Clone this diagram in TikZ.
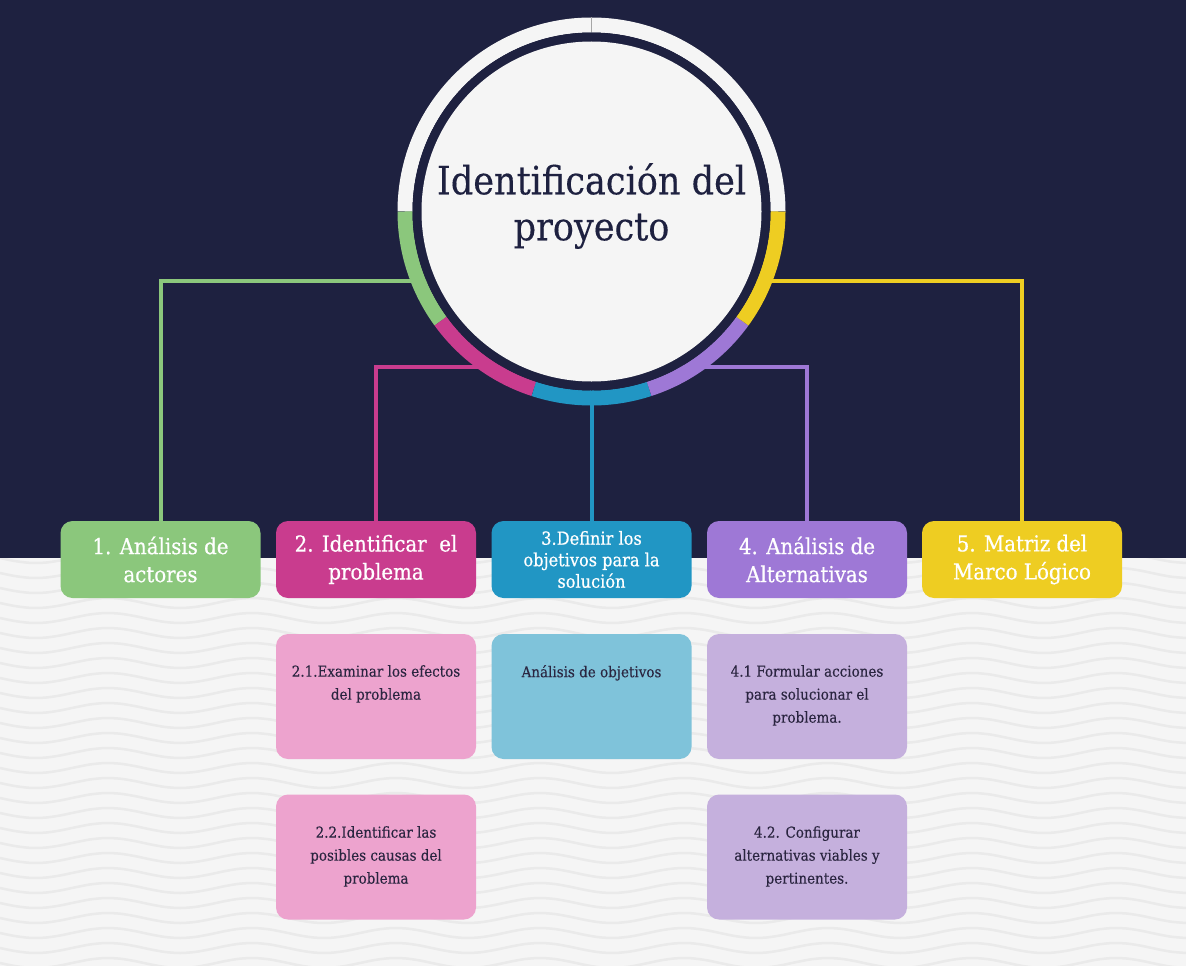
\documentclass[tikz,border=0pt]{standalone}
\usepackage{fontspec}
\setmainfont{DejaVu Serif Condensed}
\newfontfamily\slabmid[FakeBold=0.6]{DejaVu Serif Condensed}
\newfontfamily\slabtit[FakeBold=0.3]{DejaVu Serif Condensed}
\newfontfamily\slabsub[FakeBold=0.2]{DejaVu Serif Condensed}
\usetikzlibrary{calc}
\definecolor{navy}{HTML}{1E2140}
\definecolor{paper}{HTML}{F5F5F5}
\definecolor{wave}{HTML}{EAEAEA}
\definecolor{cgreen}{HTML}{8BC77C}
\definecolor{cmag}{HTML}{C93C8E}
\definecolor{cblue}{HTML}{2196C4}
\definecolor{cpurp}{HTML}{9E78D6}
\definecolor{cyell}{HTML}{EECD22}
\definecolor{lpink}{HTML}{EDA3CE}
\definecolor{lblue}{HTML}{7FC3DA}
\definecolor{llav}{HTML}{C5B0DD}
\definecolor{ink}{HTML}{2A2540}
\definecolor{ringw}{HTML}{F5F5F5}
\tikzset{
  mainbox/.style={rounded corners=12pt, minimum width=200pt, minimum height=77pt, inner sep=0pt, text=white, align=center, font=\slabmid\fontsize{22}{28}\selectfont},
  subbox/.style={rounded corners=12pt, minimum width=200pt, minimum height=125pt, inner sep=0pt},
  subtext/.style={anchor=north, align=center, text=ink, inner sep=0pt, font=\slabsub\fontsize{15}{23}\selectfont},
  link/.style={line width=4pt},
  seg/.style={line width=15pt}
}
\begin{document}
\begin{tikzpicture}[x=1pt,y=-1pt]
\useasboundingbox (0,0) rectangle (1186,966);
% backgrounds
\fill[paper] (0,0) rectangle (1186,966);
\foreach \k in {0,...,28}{
  \draw[wave, line width=2.5pt] plot[domain=0:1186, samples=80, smooth] (\x, {558+\k*15 + 5*sin(\x*2.5)});
}
\fill[navy] (0,0) rectangle (1186,558);
% centre
\coordinate (c) at (591.5,211.5);
\coordinate (jg) at (500,281);
\coordinate (jm) at (520,367);
\coordinate (jp) at (660,367);
\coordinate (jy) at (680,281);
% top boxes
\node[mainbox, fill=cgreen] (b1) at (160.5,559.5) {1. Análisis de\\actores};
\node[mainbox, fill=cmag] (b2) at (376,559.5) {2. Identificar\ \ el\\problema};
\node[mainbox, fill=cblue, font=\slabmid\fontsize{18}{21.5}\selectfont] (b3) at (591.5,559.5) {3.Definir los\\objetivos para la\\solución};
\node[mainbox, fill=cpurp] (b4) at (807,559.5) {4. Análisis de\\Alternativas};
\node[mainbox, fill=cyell] (b5) at (1022,559.5) {5. Matriz del\\Marco Lógico};
% connectors
\draw[link, cgreen] (b1.north) |- (jg);
\draw[link, cmag] (b2.north) |- (jm);
\draw[link, cblue] (b3.north) -- (c);
\draw[link, cpurp] (b4.north) |- (jp);
\draw[link, cyell] (b5.north) |- (jy);
% ring
\draw[seg, ringw] ($(c)+(0:186.5)$) arc[start angle=360, end angle=180, radius=186.5];
\draw[seg, cgreen] ($(c)+(180:186.5)$) arc[start angle=180, end angle=144, radius=186.5];
\draw[seg, cmag] ($(c)+(144:186.5)$) arc[start angle=144, end angle=108, radius=186.5];
\draw[seg, cblue] ($(c)+(108:186.5)$) arc[start angle=108, end angle=72, radius=186.5];
\draw[seg, cpurp] ($(c)+(72:186.5)$) arc[start angle=72, end angle=36, radius=186.5];
\draw[seg, cyell] ($(c)+(36:186.5)$) arc[start angle=36, end angle=0, radius=186.5];
\draw[gray!70, line width=0.8pt] ($(c)+(0,-194)$) -- ($(c)+(0,-179)$);
\fill[navy] (c) circle[radius=179];
\node[circle, fill=paper, minimum size=340pt, inner sep=0pt] (disc) at (c) {};
\node[align=center, text=navy, inner sep=0pt, font=\slabtit\fontsize{39}{46}\selectfont] (title) at (591.5,206) {Identificación del\\proyecto};
% sub boxes
\node[subbox, fill=lpink] (b21) at (376,696.5) {};
\node[subbox, fill=lblue] (b31) at (591.5,696.5) {};
\node[subbox, fill=llav] (b41) at (807,696.5) {};
\node[subbox, fill=lpink] (b22) at (376,857) {};
\node[subbox, fill=llav] (b42) at (807,857) {};
\node[subtext] (t21) at (376,665) {2.1.Examinar los efectos\\del problema};
\node[subtext] (t31) at (591.5,665) {Análisis de objetivos};
\node[subtext] (t41) at (807,665) {4.1 Formular acciones\\para solucionar el\\problema.};
\node[subtext] (t22) at (376,826) {2.2.Identificar las\\posibles causas del\\problema};
\node[subtext] (t42) at (807,826) {4.2. Configurar\\alternativas viables y\\pertinentes.};
\end{tikzpicture}
\end{document}
